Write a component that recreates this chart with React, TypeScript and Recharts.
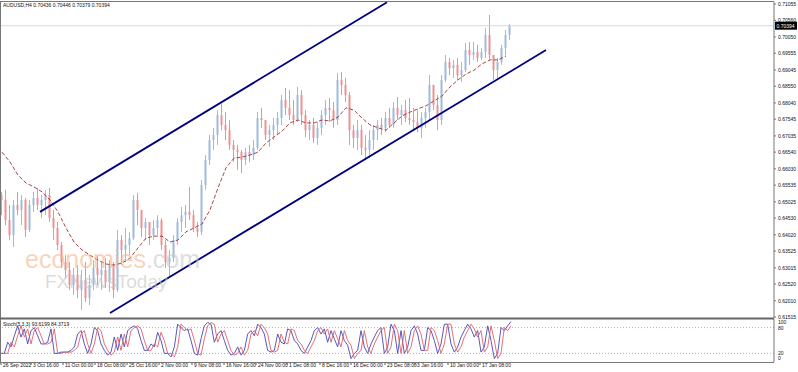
import { Bar, ComposedChart, Line, LineChart, ReferenceLine, XAxis, YAxis } from "recharts";

// MT4 AUDUSD H4, 26 Sep 2022 to 19 Jan 2023. Each drawn candle merges four H4 bars;
// x values are H4 bar numbers counted from the left edge.

const FIRST_OPEN = 0.6523;
const LAST_PRICE = 0.70394;

const highs = [
  0.6533, 0.6539, 0.6493, 0.6508, 0.6533, 0.6523, 0.6514, 0.6508, 0.6533, 0.6545,
  0.6523, 0.6539, 0.6545, 0.6478, 0.6441, 0.638, 0.634, 0.6319, 0.6301, 0.631,
  0.6295, 0.6319, 0.628, 0.6325, 0.634, 0.6319, 0.6331, 0.6325, 0.6319, 0.6417,
  0.6401, 0.6423, 0.6411, 0.6523, 0.653, 0.6478, 0.6453, 0.6441, 0.6447, 0.6462,
  0.6452, 0.6386, 0.6356, 0.6401, 0.6453, 0.6487, 0.6493, 0.6548, 0.6478, 0.6441,
  0.6569, 0.6645, 0.6706, 0.6728, 0.6782, 0.6801, 0.6776, 0.6752, 0.6691, 0.6676,
  0.6661, 0.6667, 0.6676, 0.6691, 0.6776, 0.6789, 0.6752, 0.6737, 0.6758, 0.6776,
  0.6828, 0.685, 0.6843, 0.6813, 0.6853, 0.6843, 0.6782, 0.6752, 0.6758, 0.6746,
  0.6782, 0.6813, 0.6819, 0.6807, 0.6895, 0.6898, 0.688, 0.6837, 0.6737, 0.6752,
  0.6737, 0.6706, 0.6721, 0.6737, 0.6752, 0.6758, 0.6776, 0.6789, 0.6807, 0.6822,
  0.6798, 0.6813, 0.6819, 0.6789, 0.6782, 0.6776, 0.6789, 0.6889, 0.6859, 0.6828,
  0.6889, 0.695, 0.6941, 0.6935, 0.6941, 0.6929, 0.6987, 0.699, 0.699, 0.6981,
  0.6971, 0.7032, 0.7072, 0.695, 0.6941, 0.6981, 0.7026, 0.70446,
];

const lows = [
  0.6462, 0.6432, 0.6386, 0.6365, 0.6462, 0.6432, 0.6395, 0.6411, 0.6472, 0.6478,
  0.6453, 0.6462, 0.6441, 0.6386, 0.6356, 0.6301, 0.627, 0.6234, 0.6219, 0.6209,
  0.6173, 0.6197, 0.6188, 0.6234, 0.6249, 0.6234, 0.624, 0.6228, 0.6209, 0.6228,
  0.631, 0.6319, 0.634, 0.6386, 0.6432, 0.6395, 0.6386, 0.6371, 0.6386, 0.6401,
  0.6356, 0.6301, 0.6273, 0.6319, 0.6371, 0.6411, 0.6423, 0.6447, 0.6411, 0.6395,
  0.6401, 0.6539, 0.6615, 0.6661, 0.6676, 0.6721, 0.6691, 0.6661, 0.6624, 0.66,
  0.659, 0.6615, 0.6624, 0.663, 0.6661, 0.6728, 0.6691, 0.667, 0.6691, 0.6706,
  0.6737, 0.6767, 0.6752, 0.6737, 0.6746, 0.6737, 0.67, 0.6691, 0.6682, 0.6676,
  0.6706, 0.6737, 0.6746, 0.6728, 0.6737, 0.6828, 0.6807, 0.6676, 0.6667, 0.6661,
  0.6645, 0.663, 0.6636, 0.6661, 0.6691, 0.6706, 0.6715, 0.6728, 0.6728, 0.6752,
  0.6737, 0.6746, 0.6737, 0.6721, 0.6715, 0.6697, 0.6728, 0.6752, 0.6782, 0.6721,
  0.6737, 0.6868, 0.6889, 0.688, 0.6874, 0.6868, 0.6898, 0.692, 0.6935, 0.6929,
  0.6935, 0.6941, 0.6935, 0.6874, 0.688, 0.692, 0.695, 0.6996,
];

const closes = [
  0.6508, 0.6447, 0.6401, 0.6493, 0.6478, 0.6508, 0.6417, 0.6493, 0.6514, 0.6493,
  0.6508, 0.6523, 0.6453, 0.6423, 0.6371, 0.6319, 0.6295, 0.6249, 0.628, 0.6234,
  0.6264, 0.6209, 0.6249, 0.6301, 0.628, 0.6295, 0.6258, 0.631, 0.6234, 0.6386,
  0.6356, 0.6371, 0.6392, 0.6508, 0.6478, 0.6423, 0.6441, 0.6401, 0.6423, 0.6447,
  0.6371, 0.6319, 0.6331, 0.6386, 0.6441, 0.6462, 0.6472, 0.6462, 0.6423, 0.6411,
  0.6554, 0.663, 0.6691, 0.6706, 0.6767, 0.6737, 0.6721, 0.6676, 0.6661, 0.6654,
  0.663, 0.6654, 0.6645, 0.6667, 0.6758, 0.6752, 0.6706, 0.6721, 0.6737, 0.6758,
  0.6813, 0.6789, 0.6767, 0.6752, 0.6828, 0.6767, 0.6721, 0.6737, 0.6697, 0.6728,
  0.6767, 0.6789, 0.6782, 0.6752, 0.6874, 0.6859, 0.6828, 0.6721, 0.6697, 0.6721,
  0.6667, 0.6661, 0.6691, 0.6721, 0.6737, 0.6728, 0.6758, 0.6737, 0.6789, 0.6767,
  0.6782, 0.6758, 0.6752, 0.6746, 0.6728, 0.6758, 0.6776, 0.6859, 0.6798, 0.6752,
  0.6874, 0.6929, 0.691, 0.692, 0.6889, 0.6904, 0.6965, 0.695, 0.6959, 0.6941,
  0.6959, 0.7011, 0.695, 0.6904, 0.6929, 0.6971, 0.7011, 0.70394,
];

// dashed moving average, one reading every second candle
const maValues = [
  0.6654, 0.6624, 0.6584, 0.656, 0.6548, 0.6533, 0.6508, 0.6472, 0.6423, 0.638,
  0.6356, 0.634, 0.6325, 0.6313, 0.631, 0.6316, 0.6331, 0.6362, 0.6392, 0.6398,
  0.6398, 0.638, 0.6386, 0.6411, 0.6423, 0.6435, 0.6478, 0.6545, 0.6606, 0.6636,
  0.6639, 0.6645, 0.6654, 0.6682, 0.67, 0.6718, 0.6743, 0.6752, 0.6743, 0.6743,
  0.6752, 0.6749, 0.6761, 0.6789, 0.6782, 0.6758, 0.6737, 0.6728, 0.6721, 0.6743,
  0.6764, 0.6776, 0.6786, 0.6795, 0.681, 0.6825, 0.6853, 0.6874, 0.6892, 0.6904,
  0.6923, 0.6935, 0.6935, 0.6947,
];

const stochMain = [
  20, 20, 46, 35, 61, 84, 58, 77, 42, 73,
  80, 61, 42, 42, 46, 77, 20, 20, 23, 23,
  23, 27, 35, 65, 73, 42, 20, 42, 80, 73,
  42, 27, 16, 23, 58, 27, 65, 35, 73, 80,
  84, 77, 50, 27, 27, 42, 35, 69, 50, 20,
  20, 12, 35, 88, 80, 73, 77, 50, 20, 16,
  54, 84, 92, 88, 46, 65, 73, 50, 27, 16,
  20, 35, 16, 27, 65, 73, 61, 88, 80, 65,
  27, 23, 27, 65, 46, 42, 77, 73, 50, 42,
  27, 20, 35, 50, 73, 80, 65, 77, 46, 73,
  54, 35, 73, 50, 39, 8, 20, 27, 73, 35,
  20, 42, 58, 73, 80, 20, 35, 88, 73, 20,
  73, 20, 35, 73, 84, 65, 27, 27, 80, 73,
  50, 20, 42, 88, 88, 42, 23, 35, 58, 73,
  88, 77, 58, 73, 23, 35, 84, 50, 8, 20,
  80, 73, 84, 94,
];

const stochSignal = [
  20, 20, 20, 46, 35, 61, 84, 58, 77, 42,
  73, 80, 61, 42, 42, 46, 77, 20, 20, 23,
  23, 23, 27, 35, 65, 73, 42, 20, 42, 80,
  73, 42, 27, 16, 23, 58, 27, 65, 35, 73,
  80, 84, 77, 50, 27, 27, 42, 35, 69, 50,
  20, 20, 12, 35, 88, 80, 73, 77, 50, 20,
  16, 54, 84, 92, 88, 46, 65, 73, 50, 27,
  16, 20, 35, 16, 27, 65, 73, 61, 88, 80,
  65, 27, 23, 27, 65, 46, 42, 77, 73, 50,
  42, 27, 20, 35, 50, 73, 80, 65, 77, 46,
  73, 54, 35, 73, 50, 39, 8, 20, 27, 73,
  35, 20, 42, 58, 73, 80, 20, 35, 88, 73,
  20, 73, 20, 35, 73, 84, 65, 27, 27, 80,
  73, 50, 20, 42, 88, 88, 42, 23, 35, 58,
  73, 88, 77, 58, 73, 23, 35, 84, 50, 8,
  20, 80, 73, 84,
];

const priceTicks = [
  0.71055, 0.7056, 0.7005, 0.69555, 0.69045, 0.6855, 0.6804, 0.67545, 0.67035, 0.6654,
  0.6603, 0.65535, 0.65025, 0.6453, 0.6402, 0.63525, 0.63015, 0.6252, 0.6201, 0.61515,
];

const timeLabels = [
  "26 Sep 2022", "3 Oct 16:00", "11 Oct 00:00", "18 Oct 08:00", "25 Oct 16:00",
  "2 Nov 00:00", "9 Nov 08:00", "16 Nov 16:00", "24 Nov 00:00", "1 Dec 08:00",
  "8 Dec 16:00", "16 Dec 00:00", "23 Dec 08:00", "3 Jan 16:00", "10 Jan 00:00",
  "17 Jan 08:00",
];
const timeTickBars = [0, 30, 62, 94, 126, 158, 191, 223, 255, 286, 319, 350, 384, 414, 447, 479];

// hand-drawn trend channel, anchor points as (H4 bar, price)
const upperChannel = [{ x: 39, y: 0.6472 }, { x: 386, y: 0.7111 }];
const lowerChannel = [{ x: 109, y: 0.6164 }, { x: 545, y: 0.6965 }];

const stochLevels = [0, 20, 80, 100];

const CANDLE_SPAN = 4; // H4 bars per drawn candle
const STOCH_SPAN = 10 / 3; // H4 bars between stochastic readings
const BARS_VISIBLE = 773;

const UP = "#9dbbdd";
const DOWN = "#f28f8f";
const FONT = "Liberation Sans, Arial, sans-serif";

const candleRows = closes.map((close, i) => ({
  bar: i * CANDLE_SPAN + 1,
  open: i === 0 ? FIRST_OPEN : closes[i - 1],
  high: highs[i],
  low: lows[i],
  close,
  ma: i % 2 === 0 ? maValues[i / 2] : undefined,
}));

const stochRows = stochMain.map((main, k) => ({
  bar: k * STOCH_SPAN,
  main,
  signal: stochSignal[k],
}));

function Candle(props: any) {
  const { x, y, width, height, payload } = props;
  if (x == null || y == null) return null;
  const top = Math.min(y, y + height);
  const h = Math.abs(height);
  const { open, close, high, low } = payload;
  const perUnit = h / Math.max(high - low, 1e-9);
  const bodyTop = top + (high - Math.max(open, close)) * perUnit;
  const bodyH = Math.max(1, Math.abs(close - open) * perUnit);
  const color = close >= open ? UP : DOWN;
  const cx = x + width / 2;
  return (
    <g>
      <rect x={cx - 0.5} y={top} width={1} height={h} fill={color} />
      <rect x={cx - 1} y={bodyTop} width={2} height={bodyH} fill={color} />
    </g>
  );
}

function PriceTag(props: any) {
  const vb = props.viewBox;
  if (!vb) return null;
  const x = vb.x + vb.width + 1;
  return (
    <g>
      <rect x={x} y={vb.y - 4} width={22} height={8} fill="#000" />
      <text x={x + 1.5} y={vb.y + 2} fontSize={5} fontFamily={FONT} fill="#fff">
        {LAST_PRICE.toFixed(5)}
      </text>
    </g>
  );
}

function TimeTick(props: any) {
  const { x, y, index } = props;
  return (
    <g>
      <line x1={x} x2={x} y1={y} y2={y + 3} stroke="#555" />
      <text x={x + 2} y={y + 5} fontSize={5} fontFamily={FONT} fill="#111">
        {timeLabels[index]}
      </text>
    </g>
  );
}

function StochTick(props: any) {
  const { x, y, payload } = props;
  const v = payload.value;
  // 100 and 0 are nudged inside the panel, as the terminal does
  const shift = v === 100 ? 3 : v === 0 ? -4 : 0;
  return (
    <text x={x + 4} y={y + shift + 2} fontSize={5} fontFamily={FONT} fill="#111">
      {v}
    </text>
  );
}

export default function App() {
  return (
    <div style={{ position: "fixed", left: 0, top: 0, width: 798, height: 372, background: "#fff", overflow: "hidden" }}>
      <div style={{ position: "absolute", left: 0, top: 0 }}>
        <ComposedChart width={798} height={323} data={candleRows} margin={{ top: 2, right: 0, bottom: 5, left: 1 }}>
          <XAxis dataKey="bar" type="number" domain={[0, BARS_VISIBLE]} hide allowDataOverflow />
          <YAxis
            orientation="right"
            width={24}
            domain={[0.61485, 0.71116]}
            ticks={priceTicks}
            interval={0}
            allowDataOverflow
            axisLine={{ stroke: "#777" }}
            tickLine={{ stroke: "#777" }}
            tickSize={2}
            tickMargin={2}
            tick={{ fontSize: 5, fill: "#111", fontFamily: FONT }}
            tickFormatter={(v: number) => v.toFixed(5)}
          />
          <ReferenceLine y={LAST_PRICE} stroke="#c4e2e5" label={<PriceTag />} />
          <Bar dataKey={(d: any) => [d.low, d.high]} barSize={3} shape={<Candle />} isAnimationActive={false} />
          <Line
            dataKey="ma"
            connectNulls
            stroke="#9e3434"
            strokeWidth={0.9}
            strokeDasharray="4 2"
            dot={false}
            activeDot={false}
            isAnimationActive={false}
          />
          <ReferenceLine segment={upperChannel} stroke="#000080" strokeWidth={1.8} />
          <ReferenceLine segment={lowerChannel} stroke="#000080" strokeWidth={1.8} />
        </ComposedChart>
      </div>

      {/* watermark laid over the candles, semi-transparent */}
      <svg width={798} height={372} style={{ position: "absolute", left: 0, top: 0, pointerEvents: "none" }}>
        <text x={25} y={268} fontSize={25} fontFamily={FONT} fill="#f5b58c" fillOpacity={0.6}>
          economies<tspan fill="#c8c8c8">.com</tspan>
        </text>
        <text x={45} y={288} fontSize={19} fontFamily={FONT} fill="#c4c4c4" fillOpacity={0.6}>
          FXNewsToday
        </text>
      </svg>

      <div style={{ position: "absolute", left: 0, top: 318 }}>
        <LineChart width={798} height={54} data={stochRows} margin={{ top: 1, right: 0, bottom: 0, left: 1 }}>
          <XAxis
            dataKey="bar"
            type="number"
            domain={[0, BARS_VISIBLE]}
            ticks={timeTickBars}
            interval={0}
            height={10}
            axisLine={false}
            tickLine={false}
            tickSize={0}
            tickMargin={0}
            tick={<TimeTick />}
            allowDataOverflow
          />
          <YAxis
            orientation="right"
            width={24}
            domain={[0, 100]}
            ticks={stochLevels}
            interval={0}
            axisLine={{ stroke: "#777" }}
            tickLine={false}
            tickSize={0}
            tickMargin={0}
            tick={<StochTick />}
          />
          <ReferenceLine y={80} stroke="#b0b0b0" strokeDasharray="1 2" />
          <ReferenceLine y={20} stroke="#b0b0b0" strokeDasharray="1 2" />
          <Line dataKey="main" stroke="#4646b4" strokeWidth={0.9} dot={false} activeDot={false} isAnimationActive={false} />
          <Line dataKey="signal" stroke="#e0606a" strokeWidth={0.9} dot={false} activeDot={false} isAnimationActive={false} />
        </LineChart>
      </div>

      {/* frame and captions on top */}
      <svg width={798} height={372} style={{ position: "absolute", left: 0, top: 0, pointerEvents: "none" }}>
        <line x1={0} x2={774} y1={1.5} y2={1.5} stroke="#777" />
        <line x1={0.5} x2={0.5} y1={1} y2={362} stroke="#777" />
        <line x1={0} x2={774} y1={318.5} y2={318.5} stroke="#666" strokeWidth={2} />
        <line x1={0} x2={774} y1={362.5} y2={362.5} stroke="#777" />
        <text x={3} y={7} fontSize={5} fontFamily={FONT} fill="#111">
          AUDUSD,H4  0.70436 0.70446 0.70379 0.70394
        </text>
        <text x={3} y={326} fontSize={5} fontFamily={FONT} fill="#111">
          Stoch(5,3,3) 93.6199 84.3719
        </text>
      </svg>
    </div>
  );
}
